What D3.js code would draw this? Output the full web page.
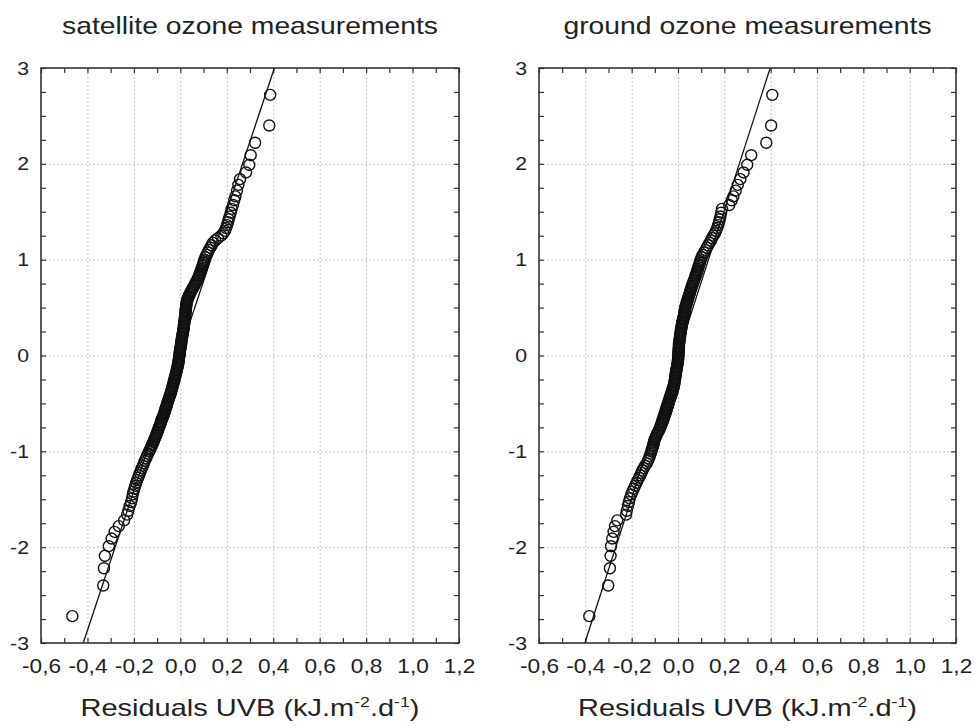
<!DOCTYPE html>
<html>
<head>
<meta charset="utf-8">
<script src="https://cdn.jsdelivr.net/npm/d3@7"></script>
<style>
  body { margin: 0; background: #fff; }
  text { font-family: "Liberation Sans", Arial, sans-serif; fill: #222; }
</style>
</head>
<body>
<svg id="chart" width="974" height="726"></svg>
<script>
// titles and tick labels
const panelTitles = ['satellite ozone measurements', 'ground ozone measurements'];
const xTickValues = [-0.6, -0.4, -0.2, 0.0, 0.2, 0.4, 0.6, 0.8, 1.0, 1.2];
const xMinorValues = [-0.6, -0.5, -0.4, -0.3, -0.2, -0.1, 0.0, 0.1, 0.2, 0.3, 0.4, 0.5, 0.6, 0.7, 0.8, 0.9, 1.0, 1.1, 1.2];
const yTickValues = [-3, -2, -1, 0, 1, 2, 3];
const yMinorValues = [-3, -2.75, -2.5, -2.25, -2, -1.75, -1.5, -1.25, -1, -0.75, -0.5, -0.25, 0, 0.25, 0.5, 0.75, 1, 1.25, 1.5, 1.75, 2, 2.25, 2.5, 2.75, 3];

// expected normal values (y axis), same sample size in both panels
const normalScores = [
  2.72, 2.40, 2.22, 2.09, 1.99, 1.91, 1.84, 1.78, 1.72, 1.66, 1.62, 1.57, 1.53, 1.49, 1.45, 1.42, 1.39, 1.36, 1.33, 1.30,
  1.275, 1.250, 1.225, 1.200, 1.175, 1.150, 1.125, 1.100, 1.075, 1.050, 1.025, 1.000,
  0.984, 0.968, 0.952, 0.936, 0.920, 0.904, 0.888, 0.872, 0.856, 0.840, 0.824, 0.808, 0.792, 0.776, 0.760, 0.744, 0.728, 0.712,
  0.700, 0.686, 0.672, 0.658, 0.644, 0.630, 0.616, 0.602, 0.588, 0.574, 0.560, 0.546, 0.532, 0.518, 0.504, 0.490, 0.476, 0.462, 0.448, 0.434,
  0.420, 0.406, 0.392, 0.378, 0.364, 0.350, 0.336, 0.322, 0.308, 0.294, 0.280, 0.266, 0.252, 0.238, 0.224, 0.210, 0.196, 0.182, 0.168, 0.154,
  0.140, 0.126, 0.112, 0.098, 0.084, 0.070, 0.056, 0.042, 0.028, 0.014, 0.000,
  -0.014, -0.028, -0.042, -0.056, -0.070, -0.084, -0.098, -0.112, -0.126, -0.140, -0.154, -0.168, -0.182, -0.196, -0.210, -0.224, -0.238, -0.252, -0.266, -0.280,
  -0.294, -0.308, -0.322, -0.336, -0.350, -0.364, -0.378, -0.392, -0.406, -0.420, -0.434, -0.448, -0.462, -0.476, -0.490, -0.504, -0.518, -0.532, -0.546, -0.560,
  -0.574, -0.588, -0.602, -0.616, -0.630, -0.644, -0.658, -0.672, -0.686, -0.700,
  -0.712, -0.728, -0.744, -0.760, -0.776, -0.792, -0.808, -0.824, -0.840, -0.856, -0.872, -0.888, -0.904, -0.920, -0.936, -0.952, -0.968, -0.984,
  -1.000, -1.025, -1.050, -1.075, -1.100, -1.125, -1.150, -1.175, -1.200, -1.225, -1.250, -1.275,
  -1.30, -1.33, -1.36, -1.39, -1.42, -1.45, -1.49, -1.53, -1.57, -1.62, -1.66, -1.72, -1.78, -1.84, -1.91, -1.99, -2.09, -2.22, -2.40, -2.72
];

// residuals UVB, satellite ozone panel (x axis), in the order of normalScores
const satResiduals = [
  0.387, 0.383, 0.322, 0.303, 0.297, 0.283, 0.257, 0.250, 0.244, 0.237, 0.232, 0.227, 0.221, 0.217, 0.212, 0.208, 0.205, 0.201, 0.197, 0.192,
  0.185, 0.176, 0.162, 0.150, 0.140, 0.135, 0.129, 0.123, 0.118, 0.113, 0.108, 0.104,
  0.102, 0.100, 0.098, 0.096, 0.094, 0.092, 0.089, 0.087, 0.085, 0.082, 0.079, 0.077, 0.073, 0.070, 0.066, 0.063, 0.060, 0.056,
  0.053, 0.050, 0.047, 0.044, 0.041, 0.039, 0.036, 0.033, 0.031, 0.030, 0.028, 0.027, 0.026, 0.025, 0.025, 0.024, 0.023, 0.023, 0.022, 0.022,
  0.021, 0.020, 0.020, 0.019, 0.018, 0.018, 0.017, 0.016, 0.015, 0.015, 0.014, 0.013, 0.012, 0.011, 0.010, 0.009, 0.008, 0.007, 0.006, 0.005,
  0.004, 0.004, 0.003, 0.002, 0.001, 0.000, -0.001, -0.002, -0.002, -0.003, -0.004,
  -0.005, -0.006, -0.006, -0.007, -0.008, -0.009, -0.010, -0.011, -0.013, -0.014, -0.015, -0.017, -0.018, -0.020, -0.021, -0.023, -0.024, -0.026, -0.027, -0.029,
  -0.030, -0.032, -0.033, -0.035, -0.036, -0.038, -0.040, -0.041, -0.043, -0.045, -0.047, -0.049, -0.051, -0.053, -0.055, -0.057, -0.058, -0.060, -0.062, -0.064,
  -0.066, -0.067, -0.069, -0.071, -0.073, -0.076, -0.078, -0.080, -0.082, -0.084,
  -0.086, -0.088, -0.091, -0.093, -0.096, -0.098, -0.100, -0.103, -0.105, -0.108, -0.111, -0.114, -0.116, -0.119, -0.122, -0.125, -0.128, -0.131,
  -0.134, -0.139, -0.144, -0.148, -0.153, -0.157, -0.161, -0.166, -0.170, -0.174, -0.178, -0.182,
  -0.186, -0.190, -0.194, -0.198, -0.202, -0.205, -0.208, -0.212, -0.218, -0.224, -0.229, -0.242, -0.265, -0.283, -0.296, -0.308, -0.325, -0.329, -0.332, -0.465
];

// residuals UVB, ground ozone panel
const groundResiduals = [
  0.407, 0.402, 0.381, 0.316, 0.299, 0.283, 0.269, 0.258, 0.249, 0.239, 0.232, 0.221, 0.190, 0.186, 0.183, 0.180, 0.177, 0.173, 0.169, 0.164,
  0.159, 0.153, 0.147, 0.142, 0.136, 0.130, 0.124, 0.119, 0.113, 0.107, 0.102, 0.098,
  0.096, 0.094, 0.092, 0.090, 0.088, 0.086, 0.084, 0.082, 0.080, 0.077, 0.075, 0.073, 0.070, 0.068, 0.065, 0.063, 0.061, 0.058,
  0.057, 0.055, 0.053, 0.052, 0.050, 0.048, 0.046, 0.044, 0.042, 0.041, 0.039, 0.037, 0.036, 0.034, 0.032, 0.031, 0.030, 0.029, 0.028, 0.027,
  0.026, 0.025, 0.023, 0.022, 0.021, 0.019, 0.018, 0.017, 0.016, 0.015, 0.014, 0.013, 0.012, 0.011, 0.010, 0.009, 0.009, 0.008, 0.007, 0.006,
  0.006, 0.005, 0.004, 0.004, 0.004, 0.003, 0.003, 0.003, 0.002, 0.002, 0.002,
  0.001, 0.001, 0.000, 0.000, -0.001, -0.002, -0.003, -0.004, -0.005, -0.006, -0.007, -0.008, -0.009, -0.010, -0.011, -0.012, -0.012, -0.013, -0.014, -0.015,
  -0.016, -0.017, -0.018, -0.020, -0.021, -0.023, -0.024, -0.026, -0.028, -0.030, -0.032, -0.034, -0.036, -0.038, -0.040, -0.041, -0.043, -0.045, -0.047, -0.049,
  -0.050, -0.052, -0.054, -0.056, -0.058, -0.060, -0.062, -0.064, -0.066, -0.068,
  -0.070, -0.073, -0.075, -0.078, -0.081, -0.084, -0.088, -0.091, -0.094, -0.097, -0.100, -0.102, -0.104, -0.105, -0.107, -0.109, -0.111, -0.113,
  -0.115, -0.118, -0.122, -0.126, -0.130, -0.135, -0.142, -0.148, -0.154, -0.158, -0.163, -0.168,
  -0.174, -0.179, -0.185, -0.191, -0.197, -0.202, -0.208, -0.212, -0.216, -0.221, -0.224, -0.262, -0.272, -0.278, -0.284, -0.289, -0.291, -0.294, -0.301, -0.383
];

// fitted normal lines (end points)
const satLineX = [-0.418, 0.405];
const satLineZ = [-3, 3];
const groundLineX = [-0.402, 0.398];
const groundLineZ = [-3, 3];

const svg = d3.select('#chart');
const plotTop = 68, plotBottom = 643;

const panels = [
  { title: panelTitles[0], left: 41, right: 459, xs: satResiduals, lx: satLineX, lz: satLineZ },
  { title: panelTitles[1], left: 539, right: 956, xs: groundResiduals, lx: groundLineX, lz: groundLineZ }
];

// widen glyphs a bit, the original font runs wider than Arial
function stretch(sel, sx) {
  sel.each(function() {
    const t = d3.select(this);
    const x = +t.attr('x') || 0;
    t.attr('x', x / sx).attr('transform', `scale(${sx},1)`);
  });
}

const fmt = d => d.toFixed(1).replace('.', ',');

panels.forEach((p, i) => {
  const x = d3.scaleLinear().domain([-0.6, 1.2]).range([p.left, p.right]);
  const y = d3.scaleLinear().domain([-3, 3]).range([plotBottom, plotTop]);
  const w = p.right - p.left, h = plotBottom - plotTop;
  const g = svg.append('g');

  g.append('clipPath').attr('id', 'clip' + i)
    .append('rect').attr('x', p.left).attr('y', plotTop).attr('width', w).attr('height', h);

  // grid
  const gx = g.append('g').attr('transform', `translate(0,${plotBottom})`)
    .call(d3.axisBottom(x).tickValues(xTickValues.slice(1, -1)).tickSize(-h).tickFormat(''));
  const gy = g.append('g').attr('transform', `translate(${p.left},0)`)
    .call(d3.axisLeft(y).tickValues(yTickValues.slice(1, -1)).tickSize(-w).tickFormat(''));
  [gx, gy].forEach(a => {
    a.select('.domain').remove();
    a.selectAll('line').attr('stroke', '#c4c4c4').attr('stroke-dasharray', '2,2');
  });

  // inward tick marks on all four sides
  const tl = 5;
  const sides = [
    g.append('g').attr('transform', `translate(0,${plotBottom})`).call(d3.axisBottom(x).tickValues(xMinorValues).tickSize(-tl).tickFormat('')),
    g.append('g').attr('transform', `translate(0,${plotTop})`).call(d3.axisTop(x).tickValues(xMinorValues).tickSize(-tl).tickFormat('')),
    g.append('g').attr('transform', `translate(${p.left},0)`).call(d3.axisLeft(y).tickValues(yMinorValues).tickSize(-tl).tickFormat('')),
    g.append('g').attr('transform', `translate(${p.right},0)`).call(d3.axisRight(y).tickValues(yMinorValues).tickSize(-tl).tickFormat(''))
  ];
  sides.forEach(a => {
    a.select('.domain').remove();
    a.selectAll('line').attr('stroke', '#333').attr('stroke-width', 1.2);
  });

  // tick labels
  const xl = g.append('g').attr('transform', `translate(0,${plotBottom})`)
    .call(d3.axisBottom(x).tickValues(xTickValues).tickSize(0).tickPadding(15).tickFormat(fmt));
  const yl = g.append('g').attr('transform', `translate(${p.left},0)`)
    .call(d3.axisLeft(y).tickValues(yTickValues).tickSize(0).tickPadding(12).tickFormat(d => String(d)));
  [xl, yl].forEach(a => {
    a.select('.domain').remove();
    a.attr('font-family', null).attr('font-size', null);
  });
  xl.selectAll('text').style('font-size', '21px').attr('fill', '#222');
  yl.selectAll('text').style('font-size', '19px').attr('fill', '#222');
  stretch(xl.selectAll('text'), 1.08);
  stretch(yl.selectAll('text'), 1.12);

  // fitted line
  g.append('path')
    .datum(p.lx.map((v, k) => [v, p.lz[k]]))
    .attr('clip-path', `url(#clip${i})`)
    .attr('fill', 'none')
    .attr('stroke', '#111')
    .attr('stroke-width', 1.3)
    .attr('d', d3.line().x(d => x(d[0])).y(d => y(d[1])));

  // points
  g.append('g').selectAll('circle')
    .data(p.xs.map((v, k) => [v, normalScores[k]]))
    .join('circle')
    .attr('cx', d => x(d[0]))
    .attr('cy', d => y(d[1]))
    .attr('r', 5.5)
    .attr('fill', 'none')
    .attr('stroke', '#111')
    .attr('stroke-width', 1.4);

  // frame
  g.append('rect')
    .attr('x', p.left).attr('y', plotTop).attr('width', w).attr('height', h)
    .attr('fill', 'none').attr('stroke', '#333').attr('stroke-width', 1.6);

  const cx = (p.left + p.right) / 2;
  const t = g.append('text')
    .attr('x', cx).attr('y', 34)
    .attr('text-anchor', 'middle')
    .style('font-size', '24px')
    .text(p.title);
  stretch(t, 1.18);

  const lab = g.append('text')
    .attr('x', cx).attr('y', 716)
    .attr('text-anchor', 'middle')
    .style('font-size', '23px');
  lab.append('tspan').text('Residuals UVB (kJ.m');
  lab.append('tspan').attr('dy', -9).style('font-size', '14px').text('-2');
  lab.append('tspan').attr('dy', 9).text('.d');
  lab.append('tspan').attr('dy', -9).style('font-size', '14px').text('-1');
  lab.append('tspan').attr('dy', 9).text(')');
  stretch(lab, 1.26);
});
</script>
</body>
</html>
